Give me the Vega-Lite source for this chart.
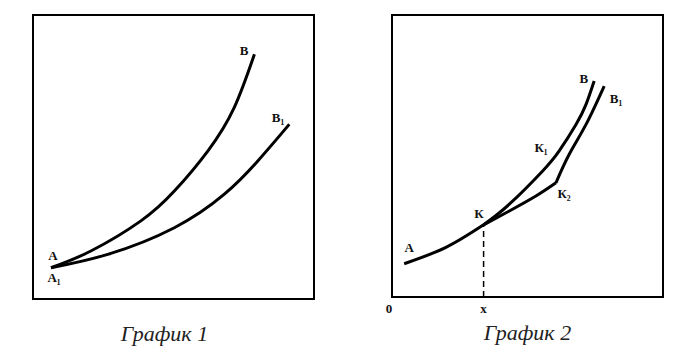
{
  "$schema": "https://vega.github.io/schema/vega-lite/v6.json",
  "padding": {"left": 32, "top": 14, "right": 0, "bottom": 0},
  "background": "white",
  "spacing": 78,
  "bounds": "flush",
  "config": {
    "view": {"stroke": "black", "strokeWidth": 2},
    "title": {"font": "Liberation Serif", "fontStyle": "italic", "fontWeight": "normal", "fontSize": 22, "color": "#222"}
  },
  "datasets": {
    "curves": [
      {"panel": 1, "series": "AB", "o": 1, "x": 6.4, "y": 11.0},
      {"panel": 1, "series": "AB", "o": 2, "x": 20.6, "y": 16.9},
      {"panel": 1, "series": "AB", "o": 3, "x": 38.4, "y": 27.5},
      {"panel": 1, "series": "AB", "o": 4, "x": 50.3, "y": 38.0},
      {"panel": 1, "series": "AB", "o": 5, "x": 62.2, "y": 52.1},
      {"panel": 1, "series": "AB", "o": 6, "x": 71.6, "y": 67.4},
      {"panel": 1, "series": "AB", "o": 7, "x": 78.8, "y": 86.2},
      {"panel": 1, "series": "A1B1", "o": 1, "x": 6.4, "y": 11.0},
      {"panel": 1, "series": "A1B1", "o": 2, "x": 26.6, "y": 15.7},
      {"panel": 1, "series": "A1B1", "o": 3, "x": 50.3, "y": 25.1},
      {"panel": 1, "series": "A1B1", "o": 4, "x": 68.1, "y": 36.9},
      {"panel": 1, "series": "A1B1", "o": 5, "x": 80.0, "y": 48.6},
      {"panel": 1, "series": "A1B1", "o": 6, "x": 91.2, "y": 61.5},
      {"panel": 2, "series": "AK", "o": 1, "x": 4.5, "y": 11.8},
      {"panel": 2, "series": "AK", "o": 2, "x": 19.9, "y": 17.6},
      {"panel": 2, "series": "AK", "o": 3, "x": 33.8, "y": 25.6},
      {"panel": 2, "series": "KB", "o": 1, "x": 33.8, "y": 25.6},
      {"panel": 2, "series": "KB", "o": 2, "x": 43.3, "y": 32.9},
      {"panel": 2, "series": "KB", "o": 3, "x": 55.6, "y": 44.7},
      {"panel": 2, "series": "KB", "o": 4, "x": 61.7, "y": 51.8},
      {"panel": 2, "series": "KB", "o": 5, "x": 67.9, "y": 61.2},
      {"panel": 2, "series": "KB", "o": 6, "x": 71.6, "y": 68.3},
      {"panel": 2, "series": "KB", "o": 7, "x": 74.6, "y": 76.6},
      {"panel": 2, "series": "KK2", "o": 1, "x": 33.8, "y": 25.6},
      {"panel": 2, "series": "KK2", "o": 2, "x": 43.3, "y": 30.5},
      {"panel": 2, "series": "KK2", "o": 3, "x": 53.1, "y": 35.8},
      {"panel": 2, "series": "KK2", "o": 4, "x": 60.5, "y": 40.5},
      {"panel": 2, "series": "K2B1", "o": 1, "x": 60.5, "y": 40.5},
      {"panel": 2, "series": "K2B1", "o": 2, "x": 65.4, "y": 50.6},
      {"panel": 2, "series": "K2B1", "o": 3, "x": 71.6, "y": 61.2},
      {"panel": 2, "series": "K2B1", "o": 4, "x": 78.3, "y": 74.8}
    ],
    "dash": [
      {"panel": 2, "x": 33.8, "y": 0, "o": 1},
      {"panel": 2, "x": 33.8, "y": 25.6, "o": 2}
    ],
    "labels": [
      {"panel": 1, "label": "В", "x": 75.1, "y": 87.3},
      {"panel": 1, "label": "В₁", "x": 87.2, "y": 63.7},
      {"panel": 1, "label": "А", "x": 7.1, "y": 15.1},
      {"panel": 1, "label": "А₁", "x": 7.5, "y": 7.4},
      {"panel": 2, "label": "В", "x": 70.8, "y": 77.3},
      {"panel": 2, "label": "В₁", "x": 82.7, "y": 70.2},
      {"panel": 2, "label": "К₁", "x": 55.0, "y": 52.8},
      {"panel": 2, "label": "К₂", "x": 63.5, "y": 36.5},
      {"panel": 2, "label": "К", "x": 32.1, "y": 29.6},
      {"panel": 2, "label": "А", "x": 6.3, "y": 17.4},
      {"panel": 2, "label": "0", "x": -1.1, "y": -4.3},
      {"panel": 2, "label": "x", "x": 33.8, "y": -4.3}
    ]
  },
  "hconcat": [
    {
      "width": 281,
      "height": 284,
      "title": {"text": "График 1", "orient": "bottom", "baseline": "top", "offset": 25, "dx": -9},
      "layer": [
        {
          "data": {"name": "curves"},
          "transform": [{"filter": "datum.panel === 1"}],
          "mark": {"type": "line", "interpolate": "natural", "color": "black", "strokeWidth": 3},
          "encoding": {
            "x": {"field": "x", "type": "quantitative", "scale": {"domain": [0, 100]}, "axis": null},
            "y": {"field": "y", "type": "quantitative", "scale": {"domain": [0, 100]}, "axis": null},
            "detail": {"field": "series"},
            "order": {"field": "o"}
          }
        },
        {
          "data": {"name": "labels"},
          "transform": [{"filter": "datum.panel === 1"}],
          "mark": {"type": "text", "font": "Liberation Serif", "fontWeight": "bold", "fontSize": 13, "color": "#111"},
          "encoding": {
            "x": {"field": "x", "type": "quantitative"},
            "y": {"field": "y", "type": "quantitative"},
            "text": {"field": "label"}
          }
        }
      ]
    },
    {
      "width": 271,
      "height": 282,
      "title": {"text": "График 2", "orient": "bottom", "baseline": "top", "offset": 7, "dx": 0},
      "layer": [
        {
          "data": {"name": "curves"},
          "transform": [{"filter": "datum.panel === 2"}],
          "mark": {"type": "line", "interpolate": "natural", "color": "black", "strokeWidth": 3},
          "encoding": {
            "x": {"field": "x", "type": "quantitative", "scale": {"domain": [0, 100]}, "axis": null},
            "y": {"field": "y", "type": "quantitative", "scale": {"domain": [0, 100]}, "axis": null},
            "detail": {"field": "series"},
            "order": {"field": "o"}
          }
        },
        {
          "data": {"name": "dash"},
          "mark": {"type": "line", "color": "black", "strokeWidth": 1.5, "strokeDash": [6, 4]},
          "encoding": {
            "x": {"field": "x", "type": "quantitative"},
            "y": {"field": "y", "type": "quantitative"},
            "order": {"field": "o"}
          }
        },
        {
          "data": {"name": "labels"},
          "transform": [{"filter": "datum.panel === 2"}],
          "mark": {"type": "text", "font": "Liberation Serif", "fontWeight": "bold", "fontSize": 13, "color": "#111"},
          "encoding": {
            "x": {"field": "x", "type": "quantitative"},
            "y": {"field": "y", "type": "quantitative"},
            "text": {"field": "label"}
          }
        }
      ]
    }
  ]
}
